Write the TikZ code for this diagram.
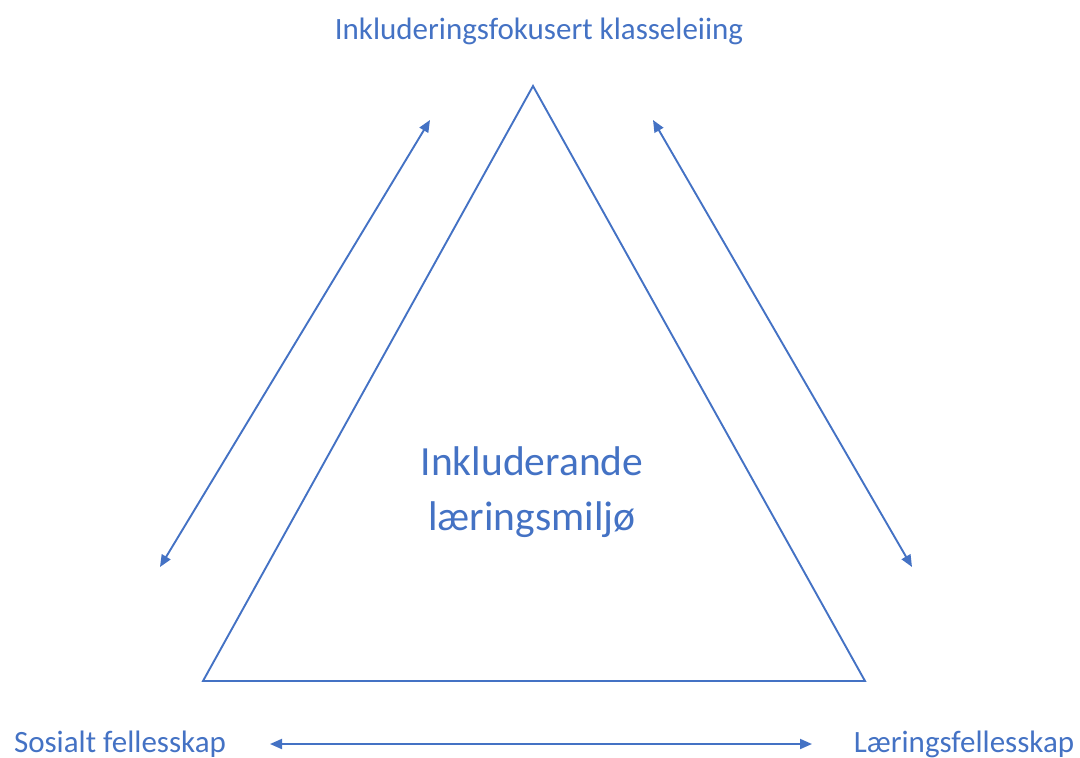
\documentclass[tikz,border=0pt]{standalone}
\usepackage{fontspec}
\setmainfont{Carlito}
\usetikzlibrary{arrows.meta}
\definecolor{ib}{HTML}{4472C4}
\tikzset{
  lbl/.style={text=ib, inner sep=0pt, anchor=center},
  conn/.style={draw=ib, line width=1.9pt, {Triangle[length=12pt,width=10pt]}-{Triangle[length=12pt,width=10pt]}},
  tri/.style={draw=ib, line width=1.9pt, line join=miter},
}
\begin{document}
\begin{tikzpicture}[x=1pt,y=-1pt]
\useasboundingbox (0,0) rectangle (1080,758);
\coordinate (A) at (533,86);
\coordinate (B) at (203,681);
\coordinate (C) at (865,681);
\draw[tri] (A) -- (B) -- (C) -- cycle;
\node[lbl, font=\fontsize{31}{36}\selectfont] (top) at (539,31) {Inkluderingsfokusert klasseleiing};
\node[lbl, font=\fontsize{41.5}{55}\selectfont, align=center] (mid) at (532,492) {Inkluderande\\læringsmiljø};
\node[lbl, font=\fontsize{31}{36}\selectfont] (sf) at (120,744) {Sosialt fellesskap};
\node[lbl, font=\fontsize{31}{36}\selectfont] (lf) at (964,744) {Læringsfellesskap};
\coordinate (l1) at (160,567);
\coordinate (l2) at (430,120);
\coordinate (r1) at (653,120);
\coordinate (r2) at (912,567);
\coordinate (b1) at (270,744);
\coordinate (b2) at (812,744);
\draw[conn] (l1) -- (l2);
\draw[conn] (r1) -- (r2);
\draw[conn] (b1) -- (b2);
\end{tikzpicture}
\end{document}
